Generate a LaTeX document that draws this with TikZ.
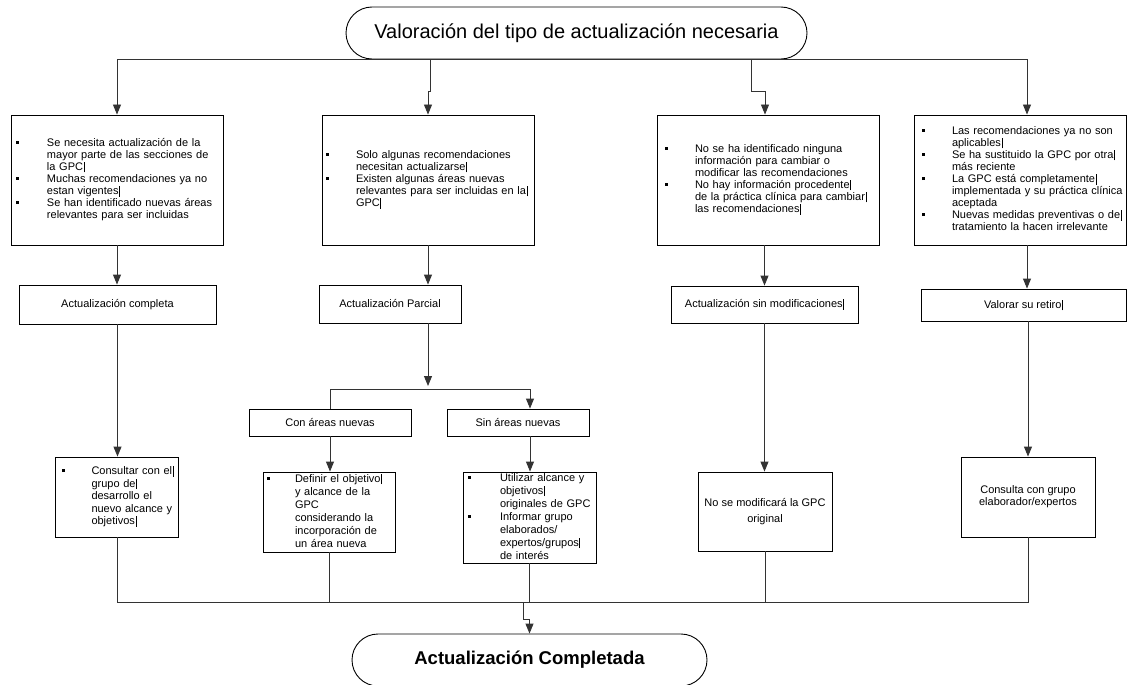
\documentclass[tikz,border=0pt]{standalone}
\usepackage{fontspec}
\setmainfont{Liberation Sans}
\usetikzlibrary{arrows.meta,calc}
\newcommand{\bl}{\rule[2.5pt]{3pt}{3pt}}
\newcommand{\cb}{\kern0.6pt\rule[-2pt]{0.8pt}{10.5pt}}
\newlength{\hw}
\newcommand{\B}{\makebox[\hw][l]{\bl}}
\begin{document}
\begin{tikzpicture}[x=1pt,y=-1pt,
 box/.style={draw=black,line width=0.9pt,fill=white,rectangle,inner ysep=0pt},
 lst/.style={box,align=left},
 lbl/.style={box,align=center,inner sep=0pt,font=\fontsize{11}{16}\selectfont},
 pill/.style={draw=black,line width=0.9pt,fill=white,rounded corners=26pt,inner sep=0pt},
 arr/.style={draw=black!80,line width=0.9pt,-{Triangle[length=10pt,width=8pt]}},
 con/.style={draw=black!80,line width=0.9pt}]
\fill[white] (0,0) rectangle (1128,685);
\useasboundingbox (0,0) rectangle (1128,685);

% title / end
\node[pill,minimum width=461pt,minimum height=52pt,font=\fontsize{20}{24}\selectfont] (t) at (576.5,33) {Valoración del tipo de actualización necesaria};
\node[pill,minimum width=355pt,minimum height=52pt,font=\bfseries\fontsize{18.5}{22}\selectfont] (e) at (529.5,660) {Actualización Completada};

% top boxes
\node[lst,inner xsep=5pt,text width=202pt,minimum height=130pt,font=\fontsize{11}{12}\selectfont] (b1) at (117,180) {\noindent\setlength{\hw}{31pt}\begin{tabular}{@{}l@{}l@{}}
\B & Se necesita actualización de la\\
 & mayor parte de las secciones de\\
 & la GPC\cb\\
\B & Muchas recomendaciones ya no\\
 & estan vigentes\cb\\
\B & Se han identificado nuevas áreas\\
 & relevantes para ser incluidas
\end{tabular}};
\node[lst,inner xsep=4pt,text width=204pt,minimum height=130pt,font=\fontsize{11}{12}\selectfont] (b2) at (428,180) {\noindent\setlength{\hw}{30pt}\begin{tabular}{@{}l@{}l@{}}
\B & Solo algunas recomendaciones\\
 & necesitan actualizarse\cb\\
\B & Existen algunas áreas nuevas\\
 & relevantes para ser incluidas en la\cb\\
 & GPC\cb
\end{tabular}};
\node[lst,inner xsep=8pt,text width=206pt,minimum height=130pt,font=\fontsize{11}{12}\selectfont] (b3) at (768,180) {\noindent\setlength{\hw}{30pt}\begin{tabular}{@{}l@{}l@{}}
\B & No se ha identificado ninguna\\
 & información para cambiar o\\
 & modificar las recomendaciones\\
\B & No hay información procedente\cb\\
 & de la práctica clínica para cambiar\cb\\
 & las recomendaciones\cb
\end{tabular}};
\node[lst,inner xsep=8pt,text width=196pt,minimum height=130pt,font=\fontsize{11}{12}\selectfont] (b4) at (1020,180) {\noindent\setlength{\hw}{30pt}\begin{tabular}{@{}l@{}l@{}}
\B & Las recomendaciones ya no son\\
 & aplicables\cb\\
\B & Se ha sustituido la GPC por otra\cb\\
 & más reciente\\
\B & La GPC está completamente\cb\\
 & implementada y su práctica clínica\\
 & aceptada\\
\B & Nuevas medidas preventivas o de\cb\\
 & tratamiento la hacen irrelevante
\end{tabular}};

% middle row
\node[lbl,minimum width=197pt,minimum height=39pt] (m1) at (117.5,304.5) {Actualización completa};
\node[lbl,minimum width=142pt,minimum height=38pt] (m2) at (390,304) {Actualización Parcial};
\node[lbl,minimum width=187pt,minimum height=37pt] (m3) at (764.5,304.5) {Actualización sin modificaciones\cb};
\node[lbl,minimum width=205pt,minimum height=32pt] (m4) at (1023.5,305) {Valorar su retiro\cb};
\node[lbl,minimum width=162pt,minimum height=27pt] (con) at (330,422.5) {Con áreas nuevas};
\node[lbl,minimum width=142pt,minimum height=27pt] (sin) at (518,422.5) {Sin áreas nuevas};

% lower row
\node[lst,inner xsep=6pt,text width=111pt,minimum height=80pt,font=\fontsize{11}{12.5}\selectfont] (c1) at (117,497) {\noindent\setlength{\hw}{30pt}\begin{tabular}{@{}l@{}l@{}}
\B & Consultar con el\cb\\
 & grupo de\cb\\
 & desarrollo el\\
 & nuevo alcance y\\
 & objetivos\cb
\end{tabular}};
\node[lst,inner xsep=4pt,text width=124pt,minimum height=80pt,font=\fontsize{11}{13}\selectfont] (d1) at (329,512) {\noindent\setlength{\hw}{28pt}\begin{tabular}{@{}l@{}l@{}}
\B & Definir el objetivo\cb\\
 & y alcance de la\\
 & GPC\\
 & considerando la\\
 & incorporación de\\
 & un área nueva
\end{tabular}};
\node[lst,inner xsep=5pt,text width=123pt,minimum height=91pt,font=\fontsize{11}{13}\selectfont] (d2) at (529.5,517.5) {\noindent\setlength{\hw}{32pt}\begin{tabular}{@{}l@{}l@{}}
\B & Utilizar alcance y\\
 & objetivos\cb\\
 & originales de GPC\\
\B & Informar grupo\\
 & elaborados/\\
 & expertos/grupos\cb\\
 & de interés
\end{tabular}};
\node[lbl,minimum width=134pt,minimum height=79pt] (n1) at (765,511.5) {No se modificará la GPC\\original};
\node[lbl,minimum width=134pt,minimum height=80pt,font=\fontsize{11}{12}\selectfont] (n2) at (1028,497) {Consulta con grupo\\elaborador/expertos};

% helper points
\coordinate (b2j) at ($(b2.north)+(2,-23)$);
\coordinate (b3j) at ($(b3.north)+(-17,-23)$);
\coordinate (b3in) at ($(b3.north)+(-3,0)$);
\coordinate (b4in) at ($(b4.north)+(7,0)$);
\coordinate (b4out) at ($(b4.south)+(7,0)$);
\coordinate (sinin) at ($(sin.north)+(12,0)$);
\coordinate (sinout) at ($(sin.south)+(12,0)$);

% connectors: top fan-out
\draw[arr] (t.south) -| (b1.north);
\draw[arr] (t.south) -| (b2j) -| (b2.north);
\draw[arr] (t.south) -| (b3j) -| (b3in);
\draw[arr] (t.south) -| (b4in);

% top boxes to middle row
\draw[arr] (b1.south) -- (b1.south |- m1.north);
\draw[arr] (b2.south) -- (b2.south |- m2.north);
\draw[arr] (m3.north |- b3.south) -- (m3.north);
\draw[arr] (b4out) -- (b4out |- m4.north);

% partial split
\coordinate (split) at (428,389);
\draw[arr] (m2.south -| b2.south) -- ($(split)+(0,-3)$);
\draw[con] (con.north) |- (split);
\draw[arr] (con.north |- split) -| (sinin);

% middle to lower
\draw[arr] (m1.south) -- (m1.south |- c1.north);
\draw[arr] (con.south) -- (con.south |- d1.north);
\draw[arr] (sinout) -- (sinout |- d2.north);
\draw[arr] (m3.south) -- (m3.south |- n1.north);
\draw[arr] (n2.north |- m4.south) -- (n2.north);

% collect
\coordinate (hb) at (523,602);
\draw[con] (c1.south) |- (hb);
\draw[con] (n2.south) |- (hb);
\draw[con] (d1.south) -- (d1.south |- hb);
\draw[con] (d2.south) -- (d2.south |- hb);
\draw[con] (n1.south) -- (n1.south |- hb);
\draw[arr] (hb) -- ++(0,17) -| (e.north);
\end{tikzpicture}
\end{document}
